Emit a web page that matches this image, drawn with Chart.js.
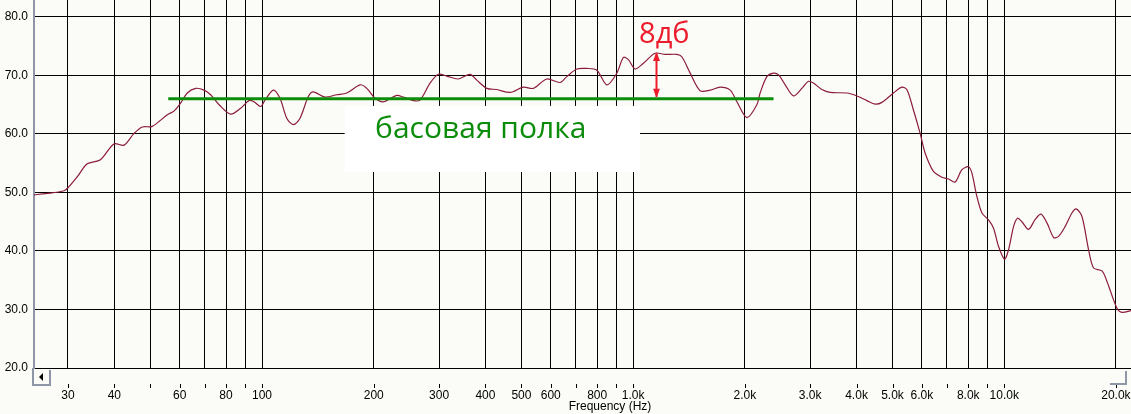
<!DOCTYPE html>
<html>
<head>
<meta charset="utf-8">
<title>АЧХ</title>
<script src="https://cdn.jsdelivr.net/npm/chart.js@4.4.1/dist/chart.umd.min.js"></script>
<style>
  html, body { margin: 0; padding: 0; background: #fbfcf7; overflow: hidden; }
  #graph { display: block; background: #fbfcf7; }
</style>
</head>
<body>
<canvas id="graph" width="1131" height="414"></canvas>
<script>
// frequency response
var freqs = [24.3, 26.1, 29.3, 30.2, 31.8, 33.8, 36.7, 39.9, 42.5, 45.2, 47.6, 50.6, 55.6, 57.9, 60.4, 62.9,
  66.3, 69.8, 72.7, 76.6, 82.3, 87.6, 92.2, 95.1, 99.2, 101.9, 107.3, 111.8, 116.6, 121.5, 126.6, 133.3,
  137.5, 147.9, 159, 169.2, 183.8, 191.6, 201.7, 212.3, 230.7, 240.4, 255.8, 266.7, 283.7, 298.7, 314.6,
  338.1, 363.6, 379.1, 403.4, 429.2, 466.3, 506.1, 538.6, 585.4, 635.7, 662.7, 705.1, 750.3, 798.4, 849.5,
  904, 941.7, 971.3, 1012, 1066, 1146, 1220, 1312, 1353, 1425, 1516, 1613, 1716, 1826, 1904, 2026, 2155,
  2199, 2293, 2389, 2466, 2569, 2705, 2849, 2969, 3062, 3226, 3396, 3767, 4009, 4265, 4490, 4682, 5029,
  5299, 5466, 5694, 5936, 6124, 6447, 6793, 7077, 7377, 7691, 8013, 8183, 8442, 8709, 9072, 9359, 9652,
  10020, 10270, 10600, 10860, 11160, 11630, 12120, 12560, 13040, 13590, 14010, 14600, 15220, 15630, 16200,
  16880, 17410, 18340, 18920, 20130, 20770, 21960];
var levels = [49.6, 49.8, 50.3, 51.0, 52.7, 54.9, 55.6, 58.3, 58.1, 60.1, 61.2, 61.3, 63.3, 63.9, 65.3, 67.0,
  67.8, 67.5, 66.7, 65.0, 63.4, 64.4, 65.7, 65.5, 64.7, 65.8, 67.5, 66.1, 62.7, 61.6, 62.7, 66.4,
  67.2, 66.3, 66.7, 67.0, 68.4, 67.8, 66.1, 65.5, 66.6, 66.3, 65.7, 65.8, 68.7, 70.2, 69.9,
  69.4, 70.2, 69.2, 67.8, 67.6, 67.1, 68.0, 67.8, 69.4, 68.8, 69.8, 71.1, 71.2, 70.9, 68.4,
  70.4, 73.1, 72.7, 71.1, 72.1, 73.8, 73.6, 73.6, 73.2, 70.4, 67.4, 67.5, 68.0, 67.5, 65.5, 62.8, 65.0,
  67.0, 69.8, 70.4, 70.1, 68.4, 66.5, 67.8, 69.0, 68.7, 67.6, 67.1, 67.0, 66.5, 65.7, 65.1, 65.4, 67.0,
  68.0, 67.6, 64.1, 60.1, 56.7, 53.6, 52.6, 52.3, 51.8, 53.9, 54.4, 53.3, 49.3, 46.5, 45.3, 43.9, 40.8,
  38.6, 40.2, 44.2, 45.6, 45.0, 43.7, 45.4, 46.3, 44.8, 42.3, 42.5, 44.2, 46.5, 47.2, 45.9,
  40.2, 37.1, 36.6, 34.8, 30.2, 29.5, 29.8];

// x grid lines and their labels (empty = line only)
var gridFreqs = [30, 40, 50, 60, 70, 80, 90, 100, 200, 300, 400, 500, 600, 700, 800, 900, 1000,
  2000, 3000, 4000, 5000, 6000, 7000, 8000, 9000, 10000, 20000];
var freqLabels = ['30', '40', '', '60', '', '80', '', '100', '200', '300', '400', '500', '600', '', '800', '', '1.0k',
  '2.0k', '3.0k', '4.0k', '5.0k', '6.0k', '', '8.0k', '', '10.0k', '20.0k'];
var dbTicks = [20, 30, 40, 50, 60, 70, 80];

// annotation values (Hz / dB)
var shelfLevel = 66;
var shelfFrom = 55.9;
var shelfTo = 2390;
var peakFreq = 1150;
var peakLevel = 74;
var boxFrom = 167, boxTo = 1044, boxTop = 64.8, boxBottom = 53.5;

var red = '#ec1c2c';
var green = '#0b8c0b';

function arrowHead(ctx, x, y, dir) {
  ctx.beginPath();
  ctx.moveTo(x, y);
  ctx.lineTo(x - 3.5, y + dir * 9);
  ctx.lineTo(x + 3.5, y + dir * 9);
  ctx.closePath();
  ctx.fill();
}

var notes = {
  id: 'notes',
  beforeDatasetsDraw: function(chart) {
    var ctx = chart.ctx, xs = chart.scales.x, ys = chart.scales.y;
    var l = xs.getPixelForValue(boxFrom), r = xs.getPixelForValue(boxTo);
    var t = ys.getPixelForValue(boxTop), b = ys.getPixelForValue(boxBottom);
    ctx.save();
    ctx.fillStyle = '#ffffff';
    ctx.fillRect(l, t, r - l, b - t);
    ctx.restore();
  },
  afterDatasetsDraw: function(chart) {
    var ctx = chart.ctx, xs = chart.scales.x, ys = chart.scales.y;
    ctx.save();
    // bass shelf line
    var sy = ys.getPixelForValue(shelfLevel);
    ctx.strokeStyle = green;
    ctx.lineWidth = 3;
    ctx.beginPath();
    ctx.moveTo(xs.getPixelForValue(shelfFrom), sy);
    ctx.lineTo(xs.getPixelForValue(shelfTo), sy);
    ctx.stroke();

    // 8 dB arrow
    var ax = Math.round(xs.getPixelForValue(peakFreq)) + 0.5;
    var top = ys.getPixelForValue(peakLevel);
    ctx.strokeStyle = red;
    ctx.fillStyle = red;
    ctx.lineWidth = 2;
    ctx.beginPath();
    ctx.moveTo(ax, top + 2);
    ctx.lineTo(ax, sy - 2);
    ctx.stroke();
    arrowHead(ctx, ax, top, 1);
    arrowHead(ctx, ax, sy - 1, -1);

    ctx.font = '29px "Open Sans"';
    ctx.textAlign = 'left';
    ctx.textBaseline = 'alphabetic';
    ctx.fillText('8дб', xs.getPixelForValue(1038), ys.getPixelForValue(75.5));

    ctx.fillStyle = green;
    ctx.font = '30px "Open Sans"';
    ctx.fillText('басовая полка', xs.getPixelForValue(201.7), ys.getPixelForValue(59.3));
    ctx.restore();
  },
  afterDraw: function(chart) {
    var ctx = chart.ctx, xs = chart.scales.x, area = chart.chartArea;
    ctx.save();
    // little tick marks above the labels
    ctx.strokeStyle = '#000';
    ctx.lineWidth = 1;
    gridFreqs.forEach(function(f) {
      var x = Math.round(xs.getPixelForValue(f)) + 0.5;
      ctx.beginPath();
      ctx.moveTo(x, area.bottom + 16);
      ctx.lineTo(x, area.bottom + 20);
      ctx.stroke();
    });

    // scroll buttons
    var grey = '#8e96a8';
    var L = area.left, B = area.bottom;
    ctx.strokeStyle = grey;
    ctx.lineWidth = 2;
    ctx.beginPath();
    ctx.moveTo(L - 1, B);
    ctx.lineTo(L - 1, B + 17);
    ctx.lineTo(L + 16, B + 17);
    ctx.lineTo(L + 16, B + 2);
    ctx.stroke();
    ctx.fillStyle = '#000';
    ctx.beginPath();
    ctx.moveTo(L + 5, B + 9);
    ctx.lineTo(L + 9, B + 5);
    ctx.lineTo(L + 9, B + 13);
    ctx.closePath();
    ctx.fill();

    var R = chart.width;
    ctx.beginPath();
    ctx.moveTo(R - 21, B + 16);
    ctx.lineTo(R - 5, B + 16);
    ctx.lineTo(R - 5, B + 3);
    ctx.stroke();

    // axis title
    ctx.fillStyle = '#000';
    ctx.font = '12px "Liberation Sans"';
    ctx.textAlign = 'center';
    ctx.textBaseline = 'middle';
    ctx.fillText('Frequency (Hz)', 610, 407);
    ctx.restore();
  }
};

var ctx = document.getElementById('graph').getContext('2d');
var points = freqs.map(function(f, i) { return { x: f, y: levels[i] }; });

var chart = new Chart(ctx, {
  type: 'line',
  data: {
    datasets: [{
      data: points,
      borderColor: '#8c1c3c',
      borderWidth: 1.2,
      pointRadius: 0,
      tension: 0.3,
      fill: false
    }]
  },
  options: {
    responsive: false,
    animation: false,
    layout: { padding: 0 },
    plugins: { legend: { display: false }, tooltip: { enabled: false } },
    scales: {
      x: {
        type: 'logarithmic',
        min: 24.3,
        max: 21960,
        afterBuildTicks: function(scale) {
          scale.ticks = gridFreqs.map(function(v) { return { value: v }; });
        },
        afterFit: function(scale) {
          scale.height = 46;
          scale.paddingLeft = 0;
          scale.paddingRight = 0;
        },
        ticks: {
          autoSkip: false,
          maxRotation: 0,
          padding: 20,
          color: '#000',
          font: { family: 'Liberation Sans', size: 12 },
          callback: function(value, index) { return freqLabels[index]; }
        },
        grid: { color: '#000', lineWidth: 1, drawTicks: false },
        border: { color: '#000', width: 1 }
      },
      y: {
        min: 20,
        max: 82.9,
        afterBuildTicks: function(scale) {
          scale.ticks = dbTicks.map(function(v) { return { value: v }; });
        },
        afterFit: function(scale) {
          scale.width = 34;
          scale.paddingTop = 0;
          scale.paddingBottom = 0;
        },
        ticks: {
          padding: 6,
          color: '#000',
          font: { family: 'Liberation Sans', size: 12 },
          callback: function(value) { return value.toFixed(1); }
        },
        grid: { color: '#000', lineWidth: 1, drawTicks: false },
        border: { color: '#8e96a8', width: 2 }
      }
    }
  },
  plugins: [notes]
});
</script>
</body>
</html>
